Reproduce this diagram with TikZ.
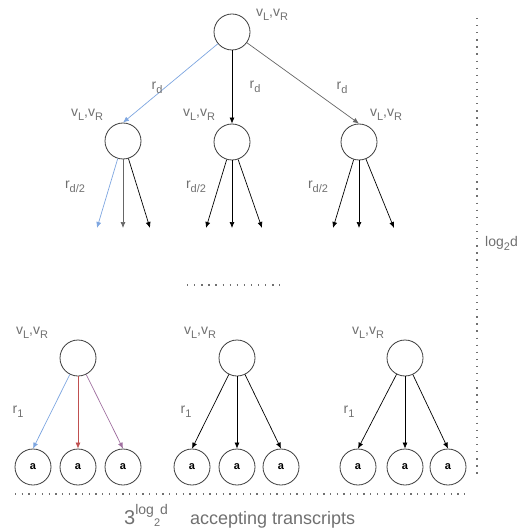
\documentclass[tikz,border=0pt]{standalone}
\usepackage{fontspec}
\setmainfont{Liberation Sans}
\usetikzlibrary{arrows.meta}
\definecolor{txt}{HTML}{707070}
\definecolor{circ}{HTML}{3C3C3C}
\definecolor{eblue}{HTML}{7EA6E0}
\definecolor{ered}{HTML}{C05050}
\definecolor{epurp}{HTML}{A070A0}
\definecolor{egray}{HTML}{666666}
\newcommand{\sbs}[2]{#1\raisebox{-4pt}{\fontsize{11}{11}\selectfont #2}}
\newcommand{\vlvr}{\sbs{v}{L},\sbs{v}{R}}
\begin{document}
\begin{tikzpicture}[x=1pt,y=-1pt,
  vtx/.style={circle, draw=circ, line width=0.8pt, minimum size=36pt, inner sep=0pt},
  leaf/.style={vtx, font=\bfseries\fontsize{11}{11}\selectfont},
  lbl/.style={text=txt, font=\fontsize{14}{14}\selectfont, inner sep=0pt},
  arr/.style={-{Latex[length=6pt,width=5pt]}, line width=0.7pt, draw=black},
  dotline/.style={draw=txt, line width=1.3pt, dash pattern=on 1.3pt off 5.5pt}]
\useasboundingbox (0,0) rectangle (525,529);
% top
\node[vtx] (t) at (232,32) {};
\node[lbl] (tl) at (272,15) {\vlvr};
% level 2
\node[vtx] (a) at (123,141) {};
\node[vtx] (b) at (232,142) {};
\node[vtx] (c) at (359,142) {};
\node[lbl] (al) at (87,115) {\vlvr};
\node[lbl] (bl) at (199,115) {\vlvr};
\node[lbl] (cl) at (386,115) {\vlvr};
\draw[arr, draw=eblue] (t) -- (a.north);
\draw[arr] (t) -- (b.north);
\draw[arr, draw=egray] (t) -- (c.north);
\node[lbl] (rd1) at (157,88) {\sbs{r}{d}};
\node[lbl] (rd2) at (255,87) {\sbs{r}{d}};
\node[lbl] (rd3) at (342,88) {\sbs{r}{d}};
% level 2 outgoing
\coordinate (a1) at (97,228); \coordinate (a2) at (123,228); \coordinate (a3) at (150,228);
\coordinate (b1) at (206,228); \coordinate (b2) at (232,228); \coordinate (b3) at (262,228);
\coordinate (c1) at (333,228); \coordinate (c2) at (359,228); \coordinate (c3) at (394,228);
\draw[arr, draw=eblue] (a) -- (a1);
\draw[arr, draw=egray] (a) -- (a2);
\draw[arr] (a) -- (a3);
\draw[arr] (b) -- (b1);
\draw[arr] (b) -- (b2);
\draw[arr] (b) -- (b3);
\draw[arr] (c) -- (c1);
\draw[arr] (c) -- (c2);
\draw[arr] (c) -- (c3);
\node[lbl] (ra) at (75,187) {\sbs{r}{d/2}};
\node[lbl] (rb) at (196,187) {\sbs{r}{d/2}};
\node[lbl] (rc) at (318,187) {\sbs{r}{d/2}};
% middle dots
\coordinate (m1) at (187,285); \coordinate (m2) at (280,285);
\draw[dotline, dash pattern=on 1.3pt off 5.8pt] (m1) -- (m2);
% bottom parents
\node[vtx] (p) at (78,358) {};
\node[vtx] (q) at (237,358) {};
\node[vtx] (s) at (405,358) {};
\node[lbl] (pl) at (32,333) {\vlvr};
\node[lbl] (ql) at (200,333) {\vlvr};
\node[lbl] (sl) at (368,333) {\vlvr};
\node[lbl] (pr) at (18,412) {\sbs{r}{1}};
\node[lbl] (qr) at (186,412) {\sbs{r}{1}};
\node[lbl] (sr) at (349,412) {\sbs{r}{1}};
% leaves
\node[leaf] (p1) at (33,467) {a};
\node[leaf] (p2) at (78,467) {a};
\node[leaf] (p3) at (123,467) {a};
\node[leaf] (q1) at (192,467) {a};
\node[leaf] (q2) at (237,467) {a};
\node[leaf] (q3) at (281,467) {a};
\node[leaf] (s1) at (358,467) {a};
\node[leaf] (s2) at (405,467) {a};
\node[leaf] (s3) at (448,467) {a};
\draw[arr, draw=eblue] (p) -- (p1.north);
\draw[arr, draw=ered] (p) -- (p2.north);
\draw[arr, draw=epurp] (p) -- (p3.north);
\draw[arr] (q) -- (q1.north);
\draw[arr] (q) -- (q2.north);
\draw[arr] (q) -- (q3.north);
\draw[arr] (s) -- (s1.north);
\draw[arr] (s) -- (s2.north);
\draw[arr] (s) -- (s3.north);
% dotted guides
\coordinate (h1) at (15,494); \coordinate (h2) at (466,494);
\draw[dotline, dash pattern=on 1.3pt off 5.4pt] (h1) -- (h2);
\coordinate (v1) at (477,18); \coordinate (v2) at (477,476);
\draw[dotline, dash pattern=on 1.3pt off 5.8pt] (v1) -- (v2);
\node[lbl, anchor=west] (lg) at (485,243) {log\raisebox{-4pt}{\fontsize{11}{11}\selectfont 2}d};
% bottom caption
\node[lbl, anchor=base west, font=\fontsize{20}{20}\selectfont] (cap3) at (124,524) {3\raisebox{10pt}{\fontsize{14}{14}\selectfont log\raisebox{-12pt}{\fontsize{11}{11}\selectfont 2}d}};
\node[lbl, anchor=base west, font=\fontsize{18}{18}\selectfont] (capt) at (190,524) {accepting transcripts};
\end{tikzpicture}
\end{document}
